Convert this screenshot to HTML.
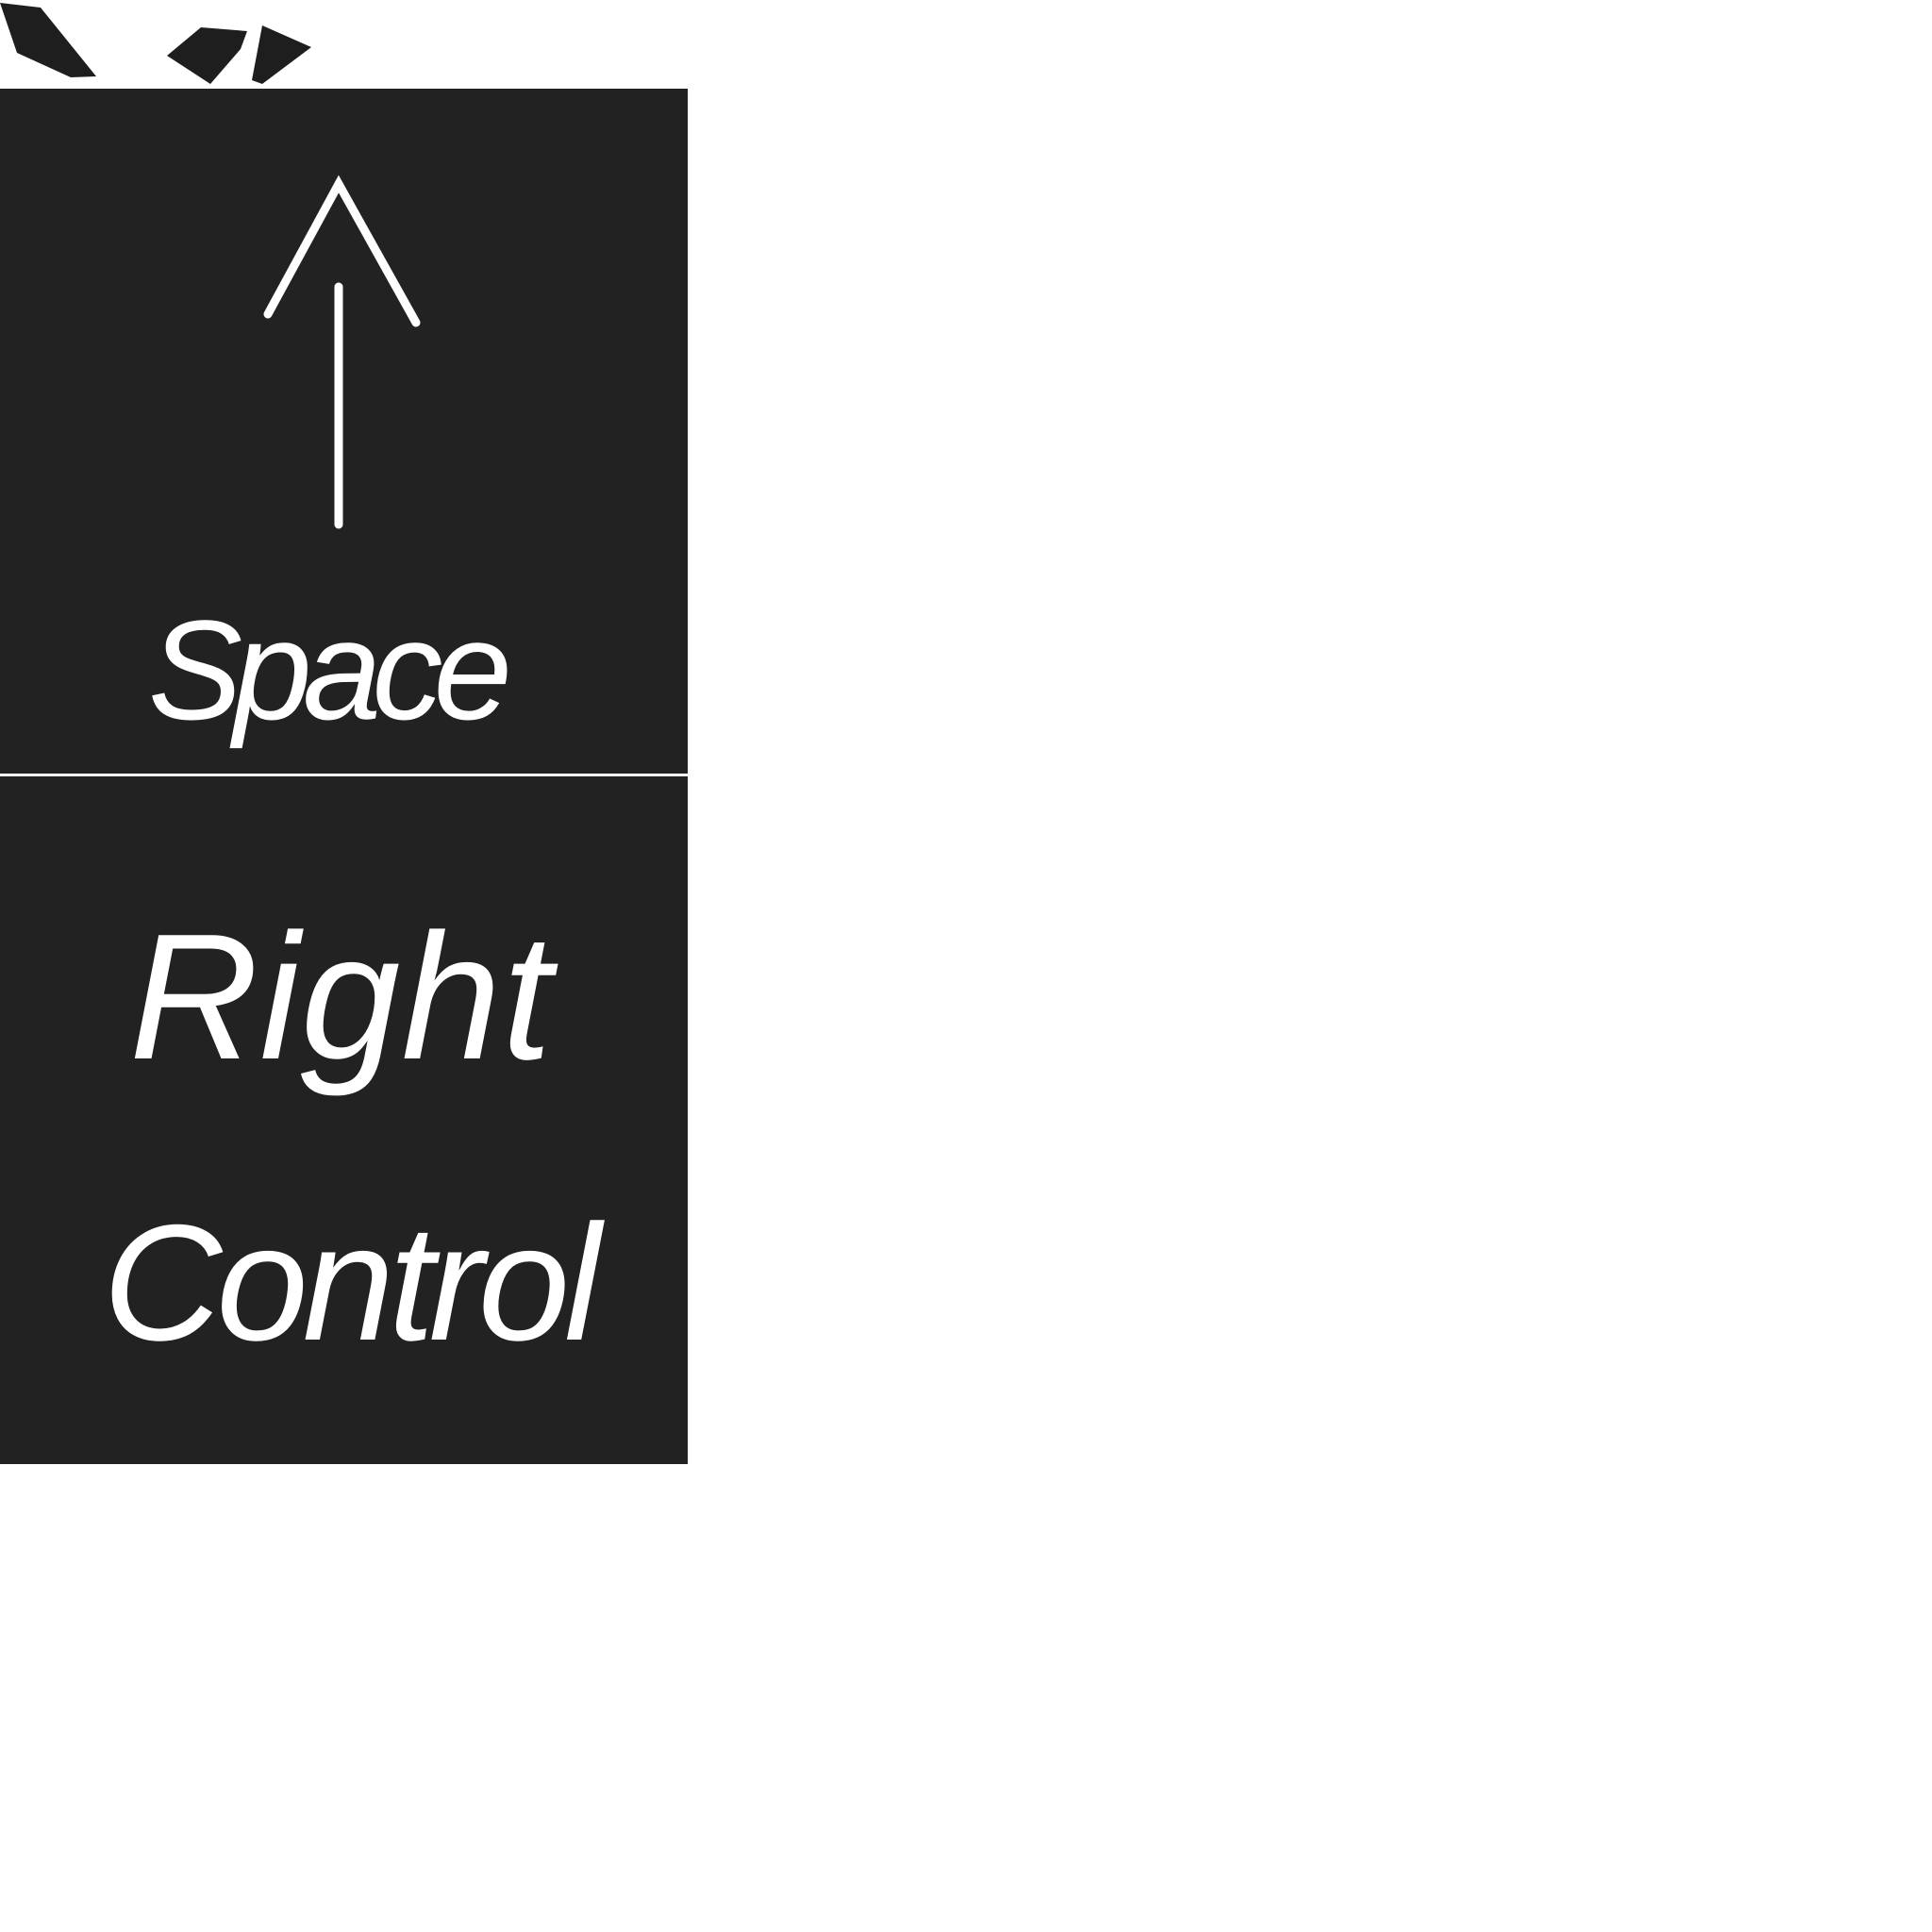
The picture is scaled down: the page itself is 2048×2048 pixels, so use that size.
<!DOCTYPE html>
<html><head><meta charset="utf-8"><style>
html,body{margin:0;padding:0;background:#fff;width:2048px;height:2048px;overflow:hidden}
svg{display:block}
</style></head><body>
<svg width="2048" height="2048" viewBox="0 0 2048 2048">
<g fill="#1e1e1e">
<polygon points="0,3 43,8 102,81 75,82 18,56"/>
<polygon points="177,59 213,29 262,33 255,52 223,89"/>
<polygon points="278,27 330,50 278,89 267,85"/>
</g>
<rect x="0" y="94" width="729" height="726" fill="#222"/>
<rect x="0" y="823" width="729" height="729" fill="#222"/>
<g stroke="#fff" stroke-width="9" stroke-linecap="round" fill="none">
<line x1="359" y1="304" x2="359" y2="556"/>
<polyline points="284,333 359,195 441,342"/>
</g>
<text x="157" y="762" textLength="386" lengthAdjust="spacing" font-family="'Liberation Sans', sans-serif" font-style="italic" font-size="150" fill="#fff">Space</text>
<text x="137" y="1122" textLength="448" lengthAdjust="spacing" font-family="'Liberation Sans', sans-serif" font-style="italic" font-size="190" fill="#fff">Right</text>
<text x="109" y="1420" textLength="528" lengthAdjust="spacing" font-family="'Liberation Sans', sans-serif" font-style="italic" font-size="175" fill="#fff">Control</text>
</svg>
</body></html>
